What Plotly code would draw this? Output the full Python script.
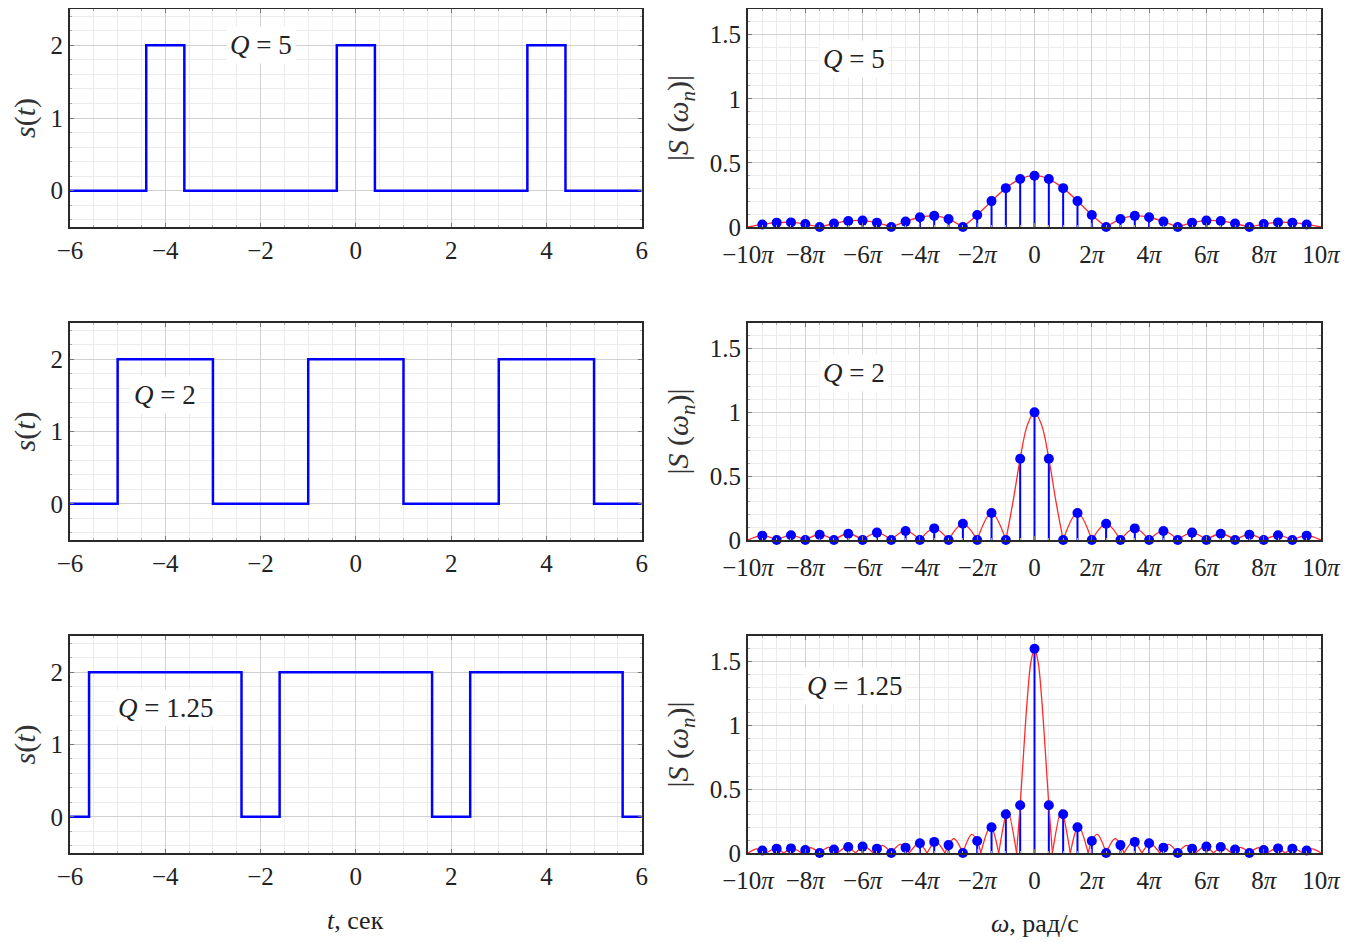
import plotly.graph_objects as go

# ---------------- data ----------------
Q_labels = ["<i>Q</i> = 5", "<i>Q</i> = 2", "<i>Q</i> = 1.25"]

# pulse trains (edges in seconds, 'hv' step shape)
t_q5 = [-6, -4.4, -3.6, -0.4, 0.4, 3.6, 4.4, 6]
s_q5 = [0, 2, 0, 2, 0, 2, 0, 0]
t_q2 = [-6, -5, -3, -1, 1, 3, 5, 6]
s_q2 = [0, 2, 0, 2, 0, 2, 0, 0]
t_q125 = [-6, -5.6, -2.4, -1.6, 1.6, 2.4, 5.6, 6]
s_q125 = [0, 2, 0, 2, 0, 2, 0, 0]

# harmonic frequencies (in units of pi rad/s)
omega_n = [-9.5, -9.0, -8.5, -8.0, -7.5, -7.0, -6.5, -6.0, -5.5, -5.0,
           -4.5, -4.0, -3.5, -3.0, -2.5, -2.0, -1.5, -1.0, -0.5, 0.0,
           0.5, 1.0, 1.5, 2.0, 2.5, 3.0, 3.5, 4.0, 4.5, 5.0,
           5.5, 6.0, 6.5, 7.0, 7.5, 8.0, 8.5, 9.0, 9.5]

S_q5 = [0.020, 0.034, 0.036, 0.023, 0.000, 0.027, 0.047, 0.050, 0.034, 0.000,
        0.042, 0.076, 0.087, 0.062, 0.000, 0.094, 0.202, 0.303, 0.374, 0.400,
        0.374, 0.303, 0.202, 0.094, 0.000, 0.062, 0.087, 0.076, 0.042, 0.000,
        0.034, 0.050, 0.047, 0.027, 0.000, 0.023, 0.036, 0.034, 0.020]

S_q2 = [0.034, 0.000, 0.037, 0.000, 0.042, 0.000, 0.049, 0.000, 0.058, 0.000,
        0.071, 0.000, 0.091, 0.000, 0.127, 0.000, 0.212, 0.000, 0.637, 1.000,
        0.637, 0.000, 0.212, 0.000, 0.127, 0.000, 0.091, 0.000, 0.071, 0.000,
        0.058, 0.000, 0.049, 0.000, 0.042, 0.000, 0.037, 0.000, 0.034]

S_q125 = [0.020, 0.034, 0.036, 0.023, 0.000, 0.027, 0.047, 0.050, 0.034, 0.000,
          0.042, 0.076, 0.087, 0.062, 0.000, 0.094, 0.202, 0.303, 0.374, 1.600,
          0.374, 0.303, 0.202, 0.094, 0.000, 0.062, 0.087, 0.076, 0.042, 0.000,
          0.034, 0.050, 0.047, 0.027, 0.000, 0.023, 0.036, 0.034, 0.020]

# continuous spectral envelope (lobes separated by None)
env_w_q5 = [-10, -9.5, -9, -8.5, -8, -7.5, None,
            -7.5, -7, -6.5, -6, -5.5, -5, None,
            -5, -4.5, -4, -3.5, -3, -2.5, None,
            -2.5, -2, -1.5, -1, -0.5, 0, 0.5, 1, 1.5, 2, 2.5, None,
            2.5, 3, 3.5, 4, 4.5, 5, None,
            5, 5.5, 6, 6.5, 7, 7.5, None,
            7.5, 8, 8.5, 9, 9.5, 10]
env_v_q5 = [0, 0.020, 0.034, 0.036, 0.023, 0, None,
            0, 0.027, 0.047, 0.050, 0.034, 0, None,
            0, 0.042, 0.076, 0.087, 0.062, 0, None,
            0, 0.094, 0.202, 0.303, 0.374, 0.400, 0.374, 0.303, 0.202, 0.094, 0, None,
            0, 0.062, 0.087, 0.076, 0.042, 0, None,
            0, 0.034, 0.050, 0.047, 0.027, 0, None,
            0, 0.023, 0.036, 0.034, 0.020, 0]

env_w_q2 = [-10, -9.5, -9, None, -9, -8.5, -8, None, -8, -7.5, -7, None,
            -7, -6.5, -6, None, -6, -5.5, -5, None, -5, -4.5, -4, None,
            -4, -3.5, -3, None, -3, -2.5, -2, None, -2, -1.5, -1, None,
            -1, -0.75, -0.5, -0.25, 0, 0.25, 0.5, 0.75, 1, None,
            1, 1.5, 2, None, 2, 2.5, 3, None, 3, 3.5, 4, None,
            4, 4.5, 5, None, 5, 5.5, 6, None, 6, 6.5, 7, None,
            7, 7.5, 8, None, 8, 8.5, 9, None, 9, 9.5, 10]
env_v_q2 = [0, 0.034, 0, None, 0, 0.037, 0, None, 0, 0.042, 0, None,
            0, 0.049, 0, None, 0, 0.058, 0, None, 0, 0.071, 0, None,
            0, 0.091, 0, None, 0, 0.127, 0, None, 0, 0.212, 0, None,
            0, 0.300, 0.637, 0.900, 1.000, 0.900, 0.637, 0.300, 0, None,
            0, 0.212, 0, None, 0, 0.127, 0, None, 0, 0.091, 0, None,
            0, 0.071, 0, None, 0, 0.058, 0, None, 0, 0.049, 0, None,
            0, 0.042, 0, None, 0, 0.037, 0, None, 0, 0.034, 0]

env_w_q125 = [-10.0, -9.6875, -9.5, -9.375, None,
              -9.375, -9.0625, -9.0, -8.75, None,
              -8.75, -8.5, -8.4375, -8.125, None,
              -8.125, -8.0, -7.8125, -7.5, None,
              -7.5, -7.1875, -7.0, -6.875, None,
              -6.875, -6.5625, -6.5, -6.25, None,
              -6.25, -6.0, -5.9375, -5.625, None,
              -5.625, -5.5, -5.3125, -5.0, None,
              -5.0, -4.6875, -4.5, -4.375, None,
              -4.375, -4.0625, -4.0, -3.75, None,
              -3.75, -3.5, -3.4375, -3.125, None,
              -3.125, -3.0, -2.8125, -2.5, None,
              -2.5, -2.1875, -2.0, -1.875, None,
              -1.875, -1.5625, -1.5, -1.25, None,
              -1.25, -1.0, -0.9375, -0.625, None,
              -0.625, -0.5, -0.375, -0.25, -0.125, 0, 0.125, 0.25, 0.375, 0.5, 0.625, None,
              0.625, 0.9375, 1.0, 1.25, None,
              1.25, 1.5, 1.5625, 1.875, None,
              1.875, 2.0, 2.1875, 2.5, None,
              2.5, 2.8125, 3.0, 3.125, None,
              3.125, 3.4375, 3.5, 3.75, None,
              3.75, 4.0, 4.0625, 4.375, None,
              4.375, 4.5, 4.6875, 5.0, None,
              5.0, 5.3125, 5.5, 5.625, None,
              5.625, 5.9375, 6.0, 6.25, None,
              6.25, 6.5, 6.5625, 6.875, None,
              6.875, 7.0, 7.1875, 7.5, None,
              7.5, 7.8125, 8.0, 8.125, None,
              8.125, 8.4375, 8.5, 8.75, None,
              8.75, 9.0, 9.0625, 9.375, None,
              9.375, 9.5, 9.6875, 10.0]
env_v_q125 = [0, 0.033, 0.020, 0, None,
              0, 0.035, 0.034, 0, None,
              0, 0.036, 0.038, 0, None,
              0, 0.023, 0.041, 0, None,
              0, 0.044, 0.027, 0, None,
              0, 0.049, 0.047, 0, None,
              0, 0.050, 0.054, 0, None,
              0, 0.034, 0.060, 0, None,
              0, 0.068, 0.042, 0, None,
              0, 0.078, 0.076, 0, None,
              0, 0.087, 0.093, 0, None,
              0, 0.062, 0.113, 0, None,
              0, 0.146, 0.094, 0, None,
              0, 0.204, 0.202, 0, None,
              0, 0.303, 0.340, 0, None,
              0, 0.374, 0.807, 1.211, 1.497, 1.600, 1.497, 1.211, 0.807, 0.374, 0, None,
              0, 0.340, 0.303, 0, None,
              0, 0.202, 0.204, 0, None,
              0, 0.094, 0.146, 0, None,
              0, 0.113, 0.062, 0, None,
              0, 0.093, 0.087, 0, None,
              0, 0.076, 0.078, 0, None,
              0, 0.042, 0.068, 0, None,
              0, 0.060, 0.034, 0, None,
              0, 0.054, 0.050, 0, None,
              0, 0.047, 0.049, 0, None,
              0, 0.027, 0.044, 0, None,
              0, 0.041, 0.023, 0, None,
              0, 0.038, 0.036, 0, None,
              0, 0.034, 0.035, 0, None,
              0, 0.020, 0.033, 0]

omega_ticks = [-10, -8, -6, -4, -2, 0, 2, 4, 6, 8, 10]
omega_ticktext = ["−10<i>π</i>", "−8<i>π</i>", "−6<i>π</i>", "−4<i>π</i>", "−2<i>π</i>", "0",
                  "2<i>π</i>", "4<i>π</i>", "6<i>π</i>", "8<i>π</i>", "10<i>π</i>"]
t_ticks = [-6, -4, -2, 0, 2, 4, 6]
t_ticktext = ["−6", "−4", "−2", "0", "2", "4", "6"]
s_ticks = [0, 1, 2]
S_ticks = [0, 0.5, 1, 1.5]
S_ticktext = ["0", "0.5", "1", "1.5"]

# ---------------- figure ----------------
FONT = "Liberation Serif"
BLUE = "#0000ff"
RED = "#ff2a2a"

fig = go.Figure()

pulses = [(t_q5, s_q5), (t_q2, s_q2), (t_q125, s_q125)]
spectra = [(S_q5, env_w_q5, env_v_q5), (S_q2, env_w_q2, env_v_q2), (S_q125, env_w_q125, env_v_q125)]

for r in range(3):
    li = 2 * r + 1
    ri = 2 * r + 2
    lx = "x" if li == 1 else f"x{li}"
    ly = "y" if li == 1 else f"y{li}"
    rx = f"x{ri}"
    ry = f"y{ri}"
    t, s = pulses[r]
    fig.add_trace(go.Scatter(x=t, y=s, mode="lines", line=dict(color=BLUE, width=2.5, shape="hv"),
                             xaxis=lx, yaxis=ly, showlegend=False))
    S, ew, ev = spectra[r]
    xs, ys = [], []
    for w, v in zip(omega_n, S):
        xs += [w, w, None]
        ys += [0, v, None]
    fig.add_trace(go.Scatter(x=xs, y=ys, mode="lines", line=dict(color=BLUE, width=2),
                             xaxis=rx, yaxis=ry, showlegend=False))
    fig.add_trace(go.Scatter(x=ew, y=ev, mode="lines", connectgaps=False,
                             line=dict(color=RED, width=1.3, shape="spline", smoothing=1),
                             xaxis=rx, yaxis=ry, showlegend=False))
    fig.add_trace(go.Scatter(x=omega_n, y=S, mode="markers", marker=dict(color=BLUE, size=10),
                             cliponaxis=False, xaxis=rx, yaxis=ry, showlegend=False))

# the page body adds an 8 px offset, so the figure is laid out in page pixels minus 8
OFF = 8
W, H = 1340, 934
left_dom = [(70 - OFF) / W, (641.7 - OFF) / W]
right_dom = [(748 - OFF) / W, (1321 - OFF) / W]
row_px = [(9, 227), (323, 540), (636, 853)]

axis_common = dict(
    showline=True, mirror="ticks", linecolor="#2a2a2a", linewidth=2,
    showgrid=True, gridcolor="#d0d0d0", gridwidth=1, zeroline=False,
    ticks="inside", ticklen=4, tickcolor="#777",
    tickfont=dict(family=FONT, size=25, color="#222"),
    automargin=False, fixedrange=True,
)
minor_common = dict(showgrid=True, gridcolor="#ececec", ticks="inside", ticklen=2, tickcolor="#aaa", tick0=0)
title_font = dict(family=FONT, size=30, color="#333")

layout = dict(
    width=W, height=H, template="none",
    paper_bgcolor="white", plot_bgcolor="white",
    margin=dict(l=0, r=0, t=0, b=0),
    showlegend=False,
)

annotations = []
for r in range(3):
    top, bot = row_px[r]
    ydom = [1 - (bot - OFF) / H, 1 - (top - OFF) / H]
    li = 2 * r + 1
    ri = 2 * r + 2
    lxk = "xaxis" if li == 1 else f"xaxis{li}"
    lyk = "yaxis" if li == 1 else f"yaxis{li}"
    lyref = "y" if li == 1 else f"y{li}"
    lxref = "x" if li == 1 else f"x{li}"
    layout[lxk] = dict(axis_common, domain=left_dom, anchor=lyref, range=[-6, 6],
                       tickmode="array", tickvals=t_ticks, ticktext=t_ticktext,
                       ticklabelstandoff=0,
                       minor=dict(minor_common, dtick=0.5))
    layout[lyk] = dict(axis_common, domain=ydom, anchor=lxref, range=[-0.5, 2.5],
                       tickmode="array", tickvals=s_ticks, ticktext=["0", "1", "2"],
                       minor=dict(minor_common, dtick=0.2),
                       title=dict(text="<i>s</i>(<i>t</i>)", font=title_font, standoff=18))
    layout[f"xaxis{ri}"] = dict(axis_common, domain=right_dom, anchor=f"y{ri}", range=[-10, 10],
                                tickmode="array", tickvals=omega_ticks, ticktext=omega_ticktext,
                                ticklabelstandoff=4,
                                minor=dict(minor_common, dtick=0.5))
    layout[f"yaxis{ri}"] = dict(axis_common, domain=ydom, anchor=f"x{ri}", range=[0, 1.7],
                                tickmode="array", tickvals=S_ticks, ticktext=S_ticktext,
                                minor=dict(minor_common, dtick=0.1),
                                title=dict(text="|<i>S</i> (<i>ω</i><sub><i>n</i></sub>)|",
                                           font=title_font, standoff=12))

# Q labels
q_left_pos = [(-2.0, 2.0), (-4.0, 1.5), (-4.0, 1.5)]
for r in range(3):
    li = 2 * r + 1
    ri = 2 * r + 2
    lxref = "x" if li == 1 else f"x{li}"
    lyref = "y" if li == 1 else f"y{li}"
    annotations.append(dict(x=q_left_pos[r][0], y=q_left_pos[r][1], xref=lxref, yref=lyref,
                            text=Q_labels[r], showarrow=False, bgcolor="white", borderpad=3,
                            font=dict(family=FONT, size=27, color="#222")))
    annotations.append(dict(x=-6.3, y=1.31, xref=f"x{ri}", yref=f"y{ri}",
                            text=Q_labels[r], showarrow=False, bgcolor="white", borderpad=3,
                            font=dict(family=FONT, size=27, color="#222")))

annotations.append(dict(x=(355 - OFF) / W, y=1 - (920 - OFF) / H, xref="paper", yref="paper",
                        xanchor="center", yanchor="middle",
                        text="<i>t</i>, сек", showarrow=False,
                        font=dict(family=FONT, size=26, color="#222")))
annotations.append(dict(x=(1035 - OFF) / W, y=1 - (923 - OFF) / H, xref="paper", yref="paper",
                        xanchor="center", yanchor="middle",
                        text="<i>ω</i>, рад/с", showarrow=False,
                        font=dict(family=FONT, size=26, color="#222")))
layout["annotations"] = annotations

fig.update_layout(**layout)
fig.write_html("out.html")
